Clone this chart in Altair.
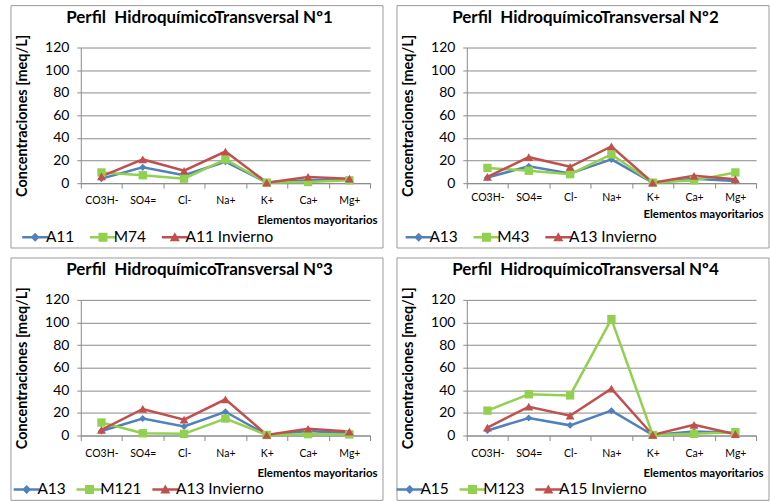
import altair as alt
import pandas as pd

# Major ions on the horizontal axis
IONS = ["CO3H-", "SO4=", "Cl-", "Na+", "K+", "Ca+", "Mg+"]

# Series colours: summer sample, M-sample, winter sample
COLORS = ["#4F81BD", "#92D050", "#C0504D"]

TITLES = [
    "Perfil\u00a0 HidroquímicoTransversal Nº1",
    "Perfil\u00a0 HidroquímicoTransversal Nº2",
    "Perfil\u00a0 HidroquímicoTransversal Nº3",
    "Perfil\u00a0 HidroquímicoTransversal Nº4",
]

# Profile 1
NAMES_1 = ["A11", "M74", "A11 Invierno"]
A11_1 = [4, 14, 7, 19, 0.5, 2.5, 3]
M74_1 = [9.5, 7, 4, 21, 0.5, 1, 2.5]
A11_INV_1 = [6, 21, 11, 28, 0.5, 5.5, 4]

# Profile 2
NAMES_2 = ["A13", "M43", "A13 Invierno"]
A13_2 = [5, 15, 8.5, 21, 0.5, 4, 2]
M43_2 = [13.5, 11, 8, 25.5, 0.5, 2.5, 9.5]
A13_INV_2 = [5.5, 23, 14.5, 32.5, 0.5, 6.5, 3.5]

# Profile 3
NAMES_3 = ["A13", "M121", "A13 Invierno"]
A13_3 = [4, 15, 8, 21, 0.5, 4, 2]
M121_3 = [11.5, 2, 1.5, 15, 0.5, 1.2, 1]
A13_INV_3 = [5, 23.5, 14, 32, 0.5, 6, 3.5]

# Profile 4
NAMES_4 = ["A15", "M123", "A15 Invierno"]
A15_4 = [4.5, 15.5, 9, 22, 0.5, 3.5, 2.5]
M123_4 = [22, 36.5, 35.5, 103, 0.5, 1.5, 3]
A15_INV_4 = [7, 25.5, 17.5, 41.5, 0.5, 9.5, 1.2]

Y_TICKS = [0, 20, 40, 60, 80, 100, 120]

FONT = "Lato"
GRID = "#8a8a8a"
W, H = 290, 136

# Legend glyphs: a short line with the series marker on it
LEG_DIAMOND = ("M-2.6,-0.25L2.6,-0.25L2.6,0.25L-2.6,0.25Z"
               "M0,-0.9L0.9,0L0,0.9L-0.9,0Z")
LEG_SQUARE = ("M-2.6,-0.25L2.6,-0.25L2.6,0.25L-2.6,0.25Z"
              "M-0.9,-0.9L0.9,-0.9L0.9,0.9L-0.9,0.9Z")
LEG_TRIANGLE = ("M-2.6,-0.25L2.6,-0.25L2.6,0.25L-2.6,0.25Z"
                "M0,-1L1,0.8L-1,0.8Z")

MARKERS = [("diamond", 50), ("square", 70), ("triangle-up", 80)]


def long_table(names, series):
    rows = []
    for role, (name, vals) in enumerate(zip(names, series)):
        for i, (ion, v) in enumerate(zip(IONS, vals)):
            rows.append({"ion": ion, "idx": i, "series": name, "role": role, "value": v})
    return pd.DataFrame(rows)


def panel(title, names, series, label_pad, xtitle_y, legend_x, col_pad):
    df = long_table(names, series)
    base = alt.Chart(df)

    x = alt.X(
        "ion:N",
        scale=alt.Scale(type="band", domain=IONS, paddingInner=0, paddingOuter=0),
        bandPosition=0.5,
        axis=alt.Axis(
            title="Elementos mayoritarios",
            titleX=297, titleY=xtitle_y, titleAlign="right", titleBaseline="middle",
            titleFont=FONT, titleFontSize=11.5, titleFontWeight="bold", titleColor="black",
            labelAngle=0, labelFont=FONT, labelFontSize=10.5, labelColor="black",
            labelBaseline="middle", labelPadding=label_pad,
            tickBand="extent", tickSize=5, tickColor=GRID, domainColor=GRID,
            grid=False,
        ),
    )
    y = alt.Y(
        "value:Q",
        scale=alt.Scale(domain=[0, 120], nice=False),
        axis=alt.Axis(
            values=Y_TICKS,
            title="Concentraciones [meq/L]",
            titleX=-58, titleY=H / 2, titleAngle=270, titleAlign="center",
            titleBaseline="middle", titleFont=FONT, titleFontSize=14.5,
            titleFontWeight="bold", titleColor="black",
            labelFont=FONT, labelFontSize=14, labelColor="black", labelPadding=8,
            tickSize=4, tickColor=GRID, domainColor=GRID, gridColor=GRID,
        ),
    )

    frame = alt.Chart(alt.Data(values=[{}])).mark_rect(
        fillOpacity=0, stroke="#9a9a9a", strokeWidth=1
    ).encode(
        x=alt.value(-70), x2=alt.value(303), y=alt.value(-42), y2=alt.value(201)
    )

    # one line layer per series, then the markers on top
    line_layers = []
    point_layers = []
    for role, (shape, size) in enumerate(MARKERS):
        sub = base.transform_filter(alt.datum.role == role)
        line_layers.append(
            sub.mark_line(strokeWidth=2.5, color=COLORS[role]).encode(
                x=x, y=y, order="idx:Q"
            )
        )
        point_layers.append(
            sub.mark_point(
                shape=shape, size=size, filled=True, opacity=1, color=COLORS[role]
            ).encode(x=x, y=y)
        )

    leg = alt.Legend(
        title=None, orient="none", legendX=legend_x, legendY=182,
        direction="horizontal", columns=3, columnPadding=col_pad,
        labelFont=FONT, labelFontSize=15.5, labelColor="black", labelOffset=3,
        symbolSize=100, symbolStrokeWidth=0, padding=0,
    )
    legend_layer = base.transform_filter("false").mark_point(
        filled=True, size=100, opacity=1
    ).encode(
        color=alt.Color("series:N", scale=alt.Scale(domain=names, range=COLORS), legend=leg),
        shape=alt.Shape(
            "series:N",
            scale=alt.Scale(domain=names, range=[LEG_DIAMOND, LEG_SQUARE, LEG_TRIANGLE]),
            legend=leg,
        ),
    )

    return alt.layer(frame, *line_layers, *point_layers, legend_layer).properties(
        width=W, height=H,
        title=alt.TitleParams(
            text=title, font=FONT, fontSize=17, fontWeight="bold", color="black",
            anchor="middle", dx=-26, offset=-22,
        ),
    )


p1 = panel(TITLES[0], NAMES_1, [A11_1, M74_1, A11_INV_1], 12.7, 37.7, -53.5, 15)
p2 = panel(TITLES[1], NAMES_2, [A13_2, M43_2, A13_INV_2], 9.7, 31.3, -56, 15)
p3 = panel(TITLES[2], NAMES_3, [A13_3, M121_3, A13_INV_3], 12.7, 37.7, -62, 10)
p4 = panel(TITLES[3], NAMES_4, [A15_4, M123_4, A15_INV_4], 12.7, 37.7, -65, 10)

chart = (
    alt.concat(p1, p2, p3, p4, columns=2, spacing={"row": 8, "column": 12})
    .resolve_scale(color="independent", shape="independent")
    .properties(padding={"left": 10, "top": 4, "right": 0, "bottom": 0}, background="white")
    .configure(font=FONT)
    .configure_view(stroke="transparent")
)

chart.save("out.html", embed_options={"renderer": "svg", "actions": False})
